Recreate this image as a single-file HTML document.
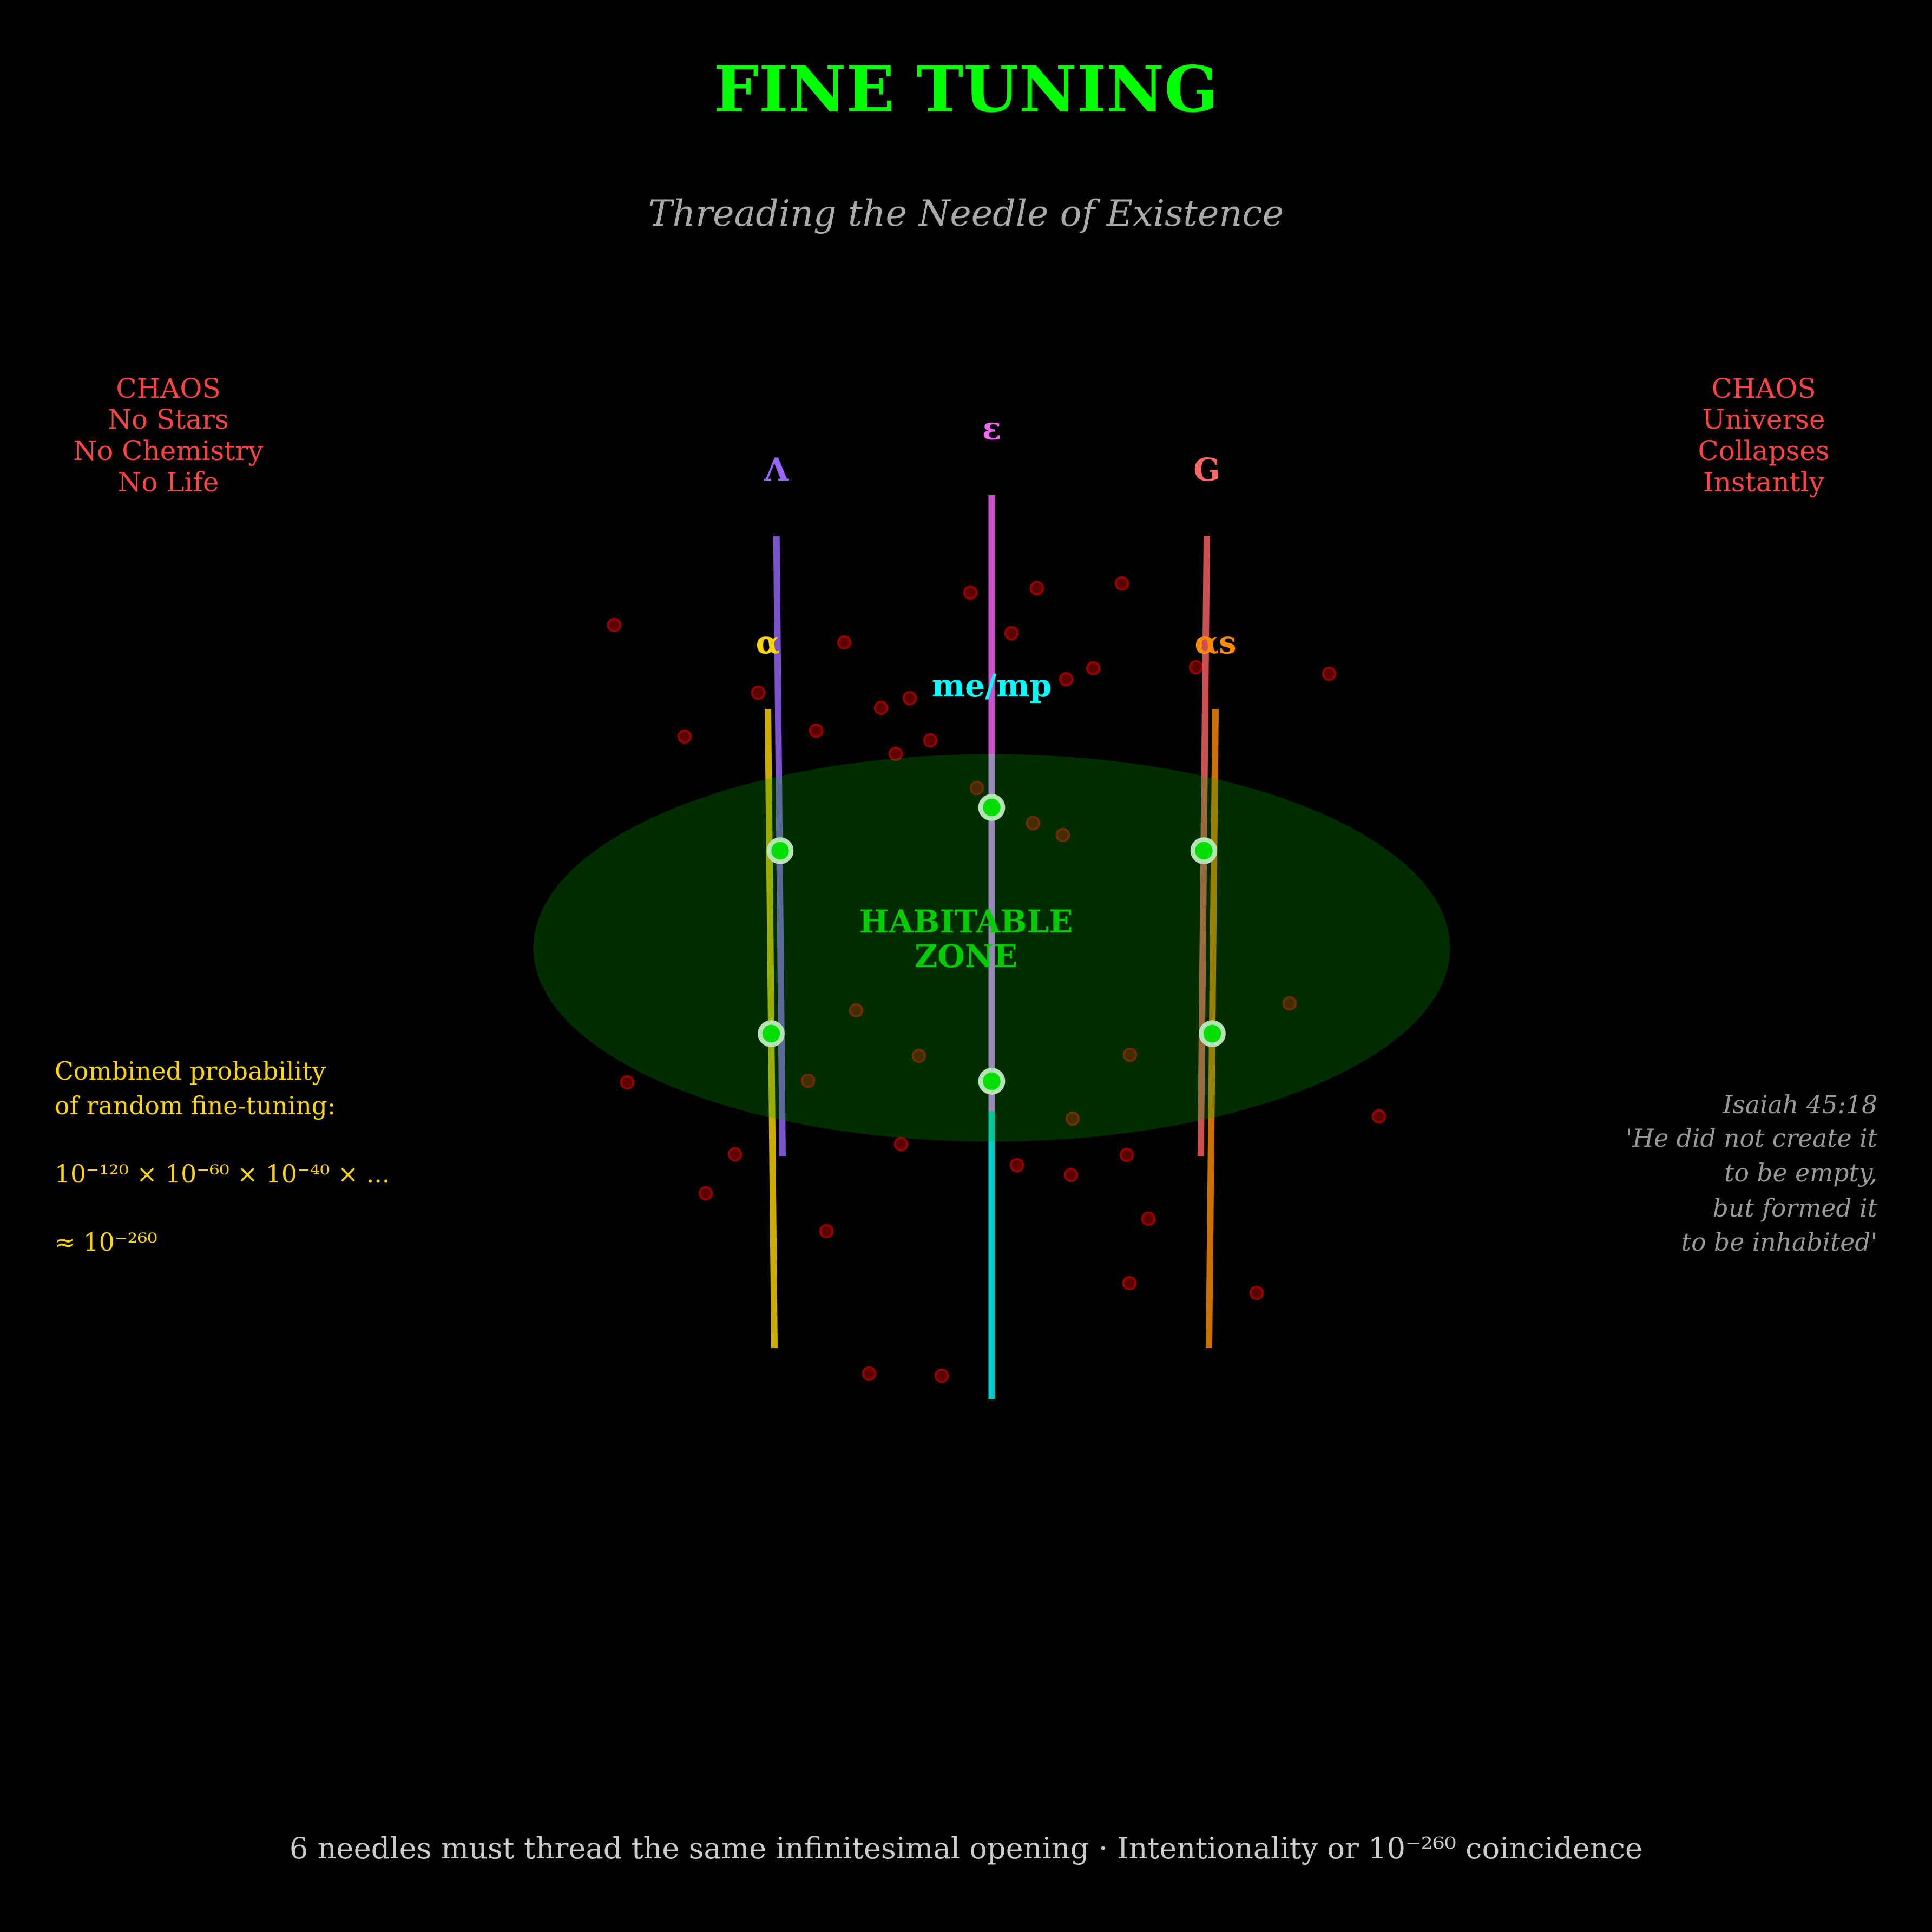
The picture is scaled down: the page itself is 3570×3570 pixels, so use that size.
<!DOCTYPE html>
<html>
<head>
<meta charset="utf-8">
<style>
html,body{margin:0;padding:0;background:#000;}
svg{display:block;}
text{font-family:"DejaVu Serif","Liberation Serif",serif;}
</style>
</head>
<body>
<svg width="3570" height="3570" viewBox="0 0 3570 3570" xmlns="http://www.w3.org/2000/svg">
<rect width="3570" height="3570" fill="#000"/>

<!-- Title -->
<text x="1785" y="206" text-anchor="middle" font-size="117" font-weight="bold" fill="#00ff00">FINE TUNING</text>
<text x="1785" y="417" text-anchor="middle" font-size="66.6" font-style="italic" fill="#aaaaaa">Threading the Needle of Existence</text>

<!-- Chaos labels -->
<g font-size="50" fill="#ff4444" text-anchor="middle">
<text x="311" y="735">CHAOS</text>
<text x="311" y="792">No Stars</text>
<text x="311" y="850">No Chemistry</text>
<text x="311" y="908">No Life</text>
<text x="3259" y="735">CHAOS</text>
<text x="3259" y="792">Universe</text>
<text x="3259" y="850">Collapses</text>
<text x="3259" y="908">Instantly</text>
</g>

<!-- Red chaos dots -->
<g fill="#5c0000" stroke="#960000" stroke-width="4">
<circle cx="1135" cy="1155" r="11.3"/>
<circle cx="1560" cy="1187" r="11.3"/>
<circle cx="1793" cy="1095" r="11.3"/>
<circle cx="1916" cy="1087" r="11.3"/>
<circle cx="2073" cy="1078" r="11.3"/>
<circle cx="1869" cy="1170" r="11.3"/>
<circle cx="1401" cy="1280" r="11.3"/>
<circle cx="1265" cy="1361" r="11.3"/>
<circle cx="1508" cy="1350" r="11.3"/>
<circle cx="1628" cy="1308" r="11.3"/>
<circle cx="1681" cy="1290" r="11.3"/>
<circle cx="1655" cy="1393" r="11.3"/>
<circle cx="1719" cy="1368" r="11.3"/>
<circle cx="1970" cy="1255" r="11.3"/>
<circle cx="2020" cy="1235" r="11.3"/>
<circle cx="2210" cy="1233" r="11.3"/>
<circle cx="2456" cy="1245" r="11.3"/>
<circle cx="1805" cy="1456" r="11.3"/>
<circle cx="1909" cy="1521" r="11.3"/>
<circle cx="1964" cy="1543" r="11.3"/>
<circle cx="1582" cy="1867" r="11.3"/>
<circle cx="1698" cy="1951" r="11.3"/>
<circle cx="1493" cy="1997" r="11.3"/>
<circle cx="2088" cy="1949" r="11.3"/>
<circle cx="2383" cy="1854" r="11.3"/>
<circle cx="1982" cy="2067" r="11.3"/>
<circle cx="1159" cy="2000" r="11.3"/>
<circle cx="1358" cy="2133" r="11.3"/>
<circle cx="1304" cy="2205" r="11.3"/>
<circle cx="1527" cy="2275" r="11.3"/>
<circle cx="1665" cy="2114" r="11.3"/>
<circle cx="1879" cy="2153" r="11.3"/>
<circle cx="1979" cy="2171" r="11.3"/>
<circle cx="2082" cy="2134" r="11.3"/>
<circle cx="2122" cy="2252" r="11.3"/>
<circle cx="2087" cy="2371" r="11.3"/>
<circle cx="2322" cy="2389" r="11.3"/>
<circle cx="2548" cy="2063" r="11.3"/>
<circle cx="1606" cy="2538" r="11.3"/>
<circle cx="1740" cy="2542" r="11.3"/>
</g>

<!-- Needles -->
<g stroke-width="12" stroke-opacity="0.8" fill="none">
<line x1="1434.7" y1="990" x2="1446" y2="2137" stroke="#9966ff"/>
<line x1="2230" y1="990" x2="2218.7" y2="2137" stroke="#ff6666"/>
<line x1="1419" y1="1310" x2="1431" y2="2491" stroke="#ffd700"/>
<line x1="2246" y1="1310" x2="2234" y2="2491" stroke="#ff8c00"/>
<line x1="1832.5" y1="1393" x2="1832.5" y2="2585" stroke="#00ffff"/>
<line x1="1832.5" y1="915" x2="1832.5" y2="2053" stroke="#ff66ff"/>
</g>

<!-- Habitable zone -->
<ellipse cx="1832.5" cy="1751.5" rx="847" ry="358" fill="#00b400" fill-opacity="0.25"/>

<!-- Green pass points -->
<g fill="#00dd00" stroke="#b4e4b4" stroke-width="8.6">
<circle cx="1441.5" cy="1572" r="20.5"/>
<circle cx="2224.5" cy="1572" r="20.5"/>
<circle cx="1425" cy="1910" r="20.5"/>
<circle cx="2240" cy="1910" r="20.5"/>
<circle cx="1832.5" cy="1492" r="20.5"/>
<circle cx="1832.5" cy="1998" r="20.5"/>
</g>

<text x="1785" y="1723" text-anchor="middle" font-size="58" font-weight="bold" fill="#00cc00">HABITABLE</text>
<text x="1785" y="1787" text-anchor="middle" font-size="58" font-weight="bold" fill="#00cc00">ZONE</text>

<!-- Needle labels -->
<g font-size="58" font-weight="bold" text-anchor="middle">
<text x="1434.7" y="888" fill="#9966ff">Λ</text>
<text x="1832.5" y="812" fill="#ff66ff">ε</text>
<text x="2230" y="888" fill="#ff6666">G</text>
<text x="1419" y="1207" fill="#ffd700">α</text>
<text x="2246" y="1207" fill="#ff8c00">αs</text>
<text x="1832.5" y="1287" fill="#00ffff">me/mp</text>
</g>

<!-- Probability -->
<g font-size="45.6" fill="#ffd700">
<text x="101" y="1995">Combined probability</text>
<text x="101" y="2059">of random fine-tuning:</text>
<text x="101" y="2185">10⁻¹²⁰ × 10⁻⁶⁰ × 10⁻⁴⁰ × ...</text>
<text x="101" y="2311">≈ 10⁻²⁶⁰</text>
</g>

<!-- Isaiah -->
<g font-size="45.6" font-style="italic" fill="#999999" text-anchor="end">
<text x="3469" y="2057">Isaiah 45:18</text>
<text x="3469" y="2119">'He did not create it</text>
<text x="3469" y="2183">to be empty,</text>
<text x="3469" y="2248">but formed it</text>
<text x="3469" y="2311">to be inhabited'</text>
</g>

<!-- Footer -->
<text x="1785" y="3434" text-anchor="middle" font-size="54.2" fill="#cccccc">6 needles must thread the same infinitesimal opening · Intentionality or 10⁻²⁶⁰ coincidence</text>
</svg>
</body>
</html>
